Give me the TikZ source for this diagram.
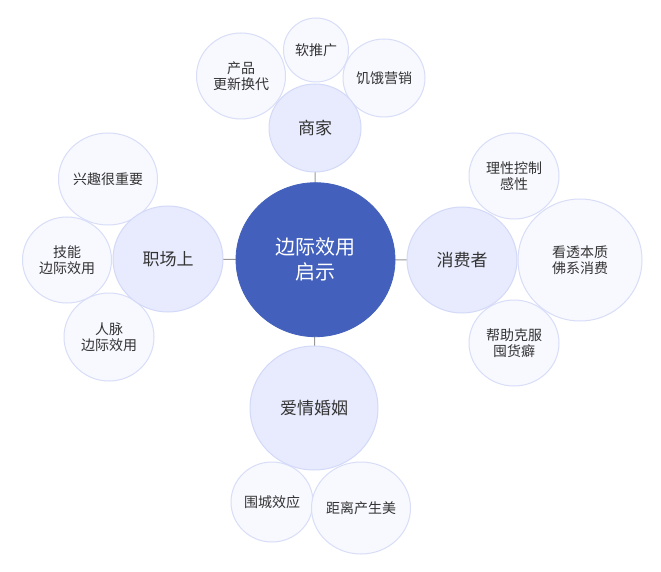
\documentclass[tikz,border=0pt]{standalone}
\usepackage{fontspec}
\setmainfont{Noto Sans CJK SC}
\usetikzlibrary{shapes.geometric}
\definecolor{cblue}{HTML}{4361BC}
\definecolor{bfill}{HTML}{E8EBFD}
\definecolor{bline}{HTML}{D3D9F8}
\definecolor{lfill}{HTML}{F8F9FF}
\definecolor{lline}{HTML}{D8DDF8}
\definecolor{ctext}{HTML}{333333}
\definecolor{conn}{HTML}{999999}
\tikzset{
  centernode/.style={ellipse, inner sep=0pt, fill=cblue, draw=cblue, line width=0.8pt, text=white, font=\fontsize{20}{25}\selectfont, align=center},
  branchnode/.style={ellipse, inner sep=0pt, fill=bfill, draw=bline, line width=1pt, text=ctext, font=\fontsize{17}{20}\selectfont, align=center},
  leafnode/.style={ellipse, inner sep=0pt, fill=lfill, draw=lline, line width=1pt, text=ctext, font=\fontsize{14}{15.5}\selectfont, align=center},
  connector/.style={draw=conn, line width=1pt},
  sz/.style 2 args={minimum width=#1pt, minimum height=#2pt}
}
\begin{document}
\begin{tikzpicture}[x=1pt, y=-1pt]
\useasboundingbox[fill=white] (0,0) rectangle (661,572);
\coordinate (cc) at (315.5,259.7);
\coordinate (b1) at (315,128);
\coordinate (b2) at (462,260);
\coordinate (b3) at (314,408);
\coordinate (b4) at (168,259);
\draw[connector] (cc) -- (b1);
\draw[connector] (cc) -- (b2);
\draw[connector] (cc) -- (b3);
\draw[connector] (cc) -- (b4);
% leaves
\node[leafnode, sz={89}{86}] (l1) at (241,76) {产品\\更新换代};
\node[leafnode, sz={65}{64}] (l2) at (316,50) {软推广};
\node[leafnode, sz={82}{78}] (l3) at (384,78) {饥饿营销};
\node[leafnode, sz={90}{86}] (l4) at (514,176) {理性控制\\感性};
\node[leafnode, sz={124}{122}] (l5) at (580,260) {看透本质\\佛系消费};
\node[leafnode, sz={90}{86}] (l6) at (514,343) {帮助克服\\囤货癖};
\node[leafnode, sz={82}{80}] (l7) at (272,502) {围城效应};
\node[leafnode, sz={96}{92}] (l8) at (361,508) {距离产生美};
\node[leafnode, sz={96}{92}] (l9) at (108,179) {兴趣很重要};
\node[leafnode, sz={89}{86}] (l10) at (67,260) {技能\\边际效用};
\node[leafnode, sz={90}{88}] (l11) at (109,337) {人脉\\边际效用};
% branches
\node[branchnode, sz={92}{88}] (n1) at (b1) {商家};
\node[branchnode, sz={110}{106}] (n2) at (b2) {消费者};
\node[branchnode, sz={128}{124}] (n3) at (b3) {爱情婚姻};
\node[branchnode, sz={110}{106}] (n4) at (b4) {职场上};
% center
\node[centernode, sz={159}{154}] (c) at (cc) {边际效用\\启示};
\end{tikzpicture}
\end{document}
